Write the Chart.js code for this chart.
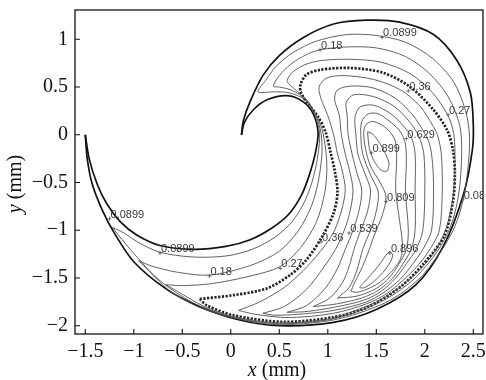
<!DOCTYPE html>
<html><head><meta charset="utf-8">
<script src="https://cdn.jsdelivr.net/npm/chart.js@4.4.0/dist/chart.umd.min.js"></script>
<style>html,body{margin:0;padding:0;background:#fff}</style>
</head><body>
<canvas id="c" width="486" height="380"></canvas>
<script>
const xTicks=[-1.5,-1,-0.5,0,0.5,1,1.5,2,2.5];
const yTicks=[-2,-1.5,-1,-0.5,0,0.5,1];

const outerBoundary=[[-1.5,0],[-1.48,-0.25],[-1.43,-0.51],[-1.32,-0.8],[-1.2,-1.03],[-1.0,-1.33],[-0.66,-1.62],[-0.32,-1.8],[0.09,-1.94],[0.5,-2.0],[1.06,-1.965],[1.5,-1.83],[1.91,-1.57],[2.19,-1.17],[2.4,-0.62],[2.49,-0.16],[2.5,0.1],[2.47,0.44],[2.33,0.78],[2.09,1.05],[1.74,1.18],[1.4,1.2],[1.06,1.16],[0.75,1.02],[0.5,0.83],[0.33,0.62],[0.2,0.35],[0.13,0.15],[0.11,0.0]];
const innerBoundary=[[0.11,0.0],[0.14,0.13],[0.24,0.27],[0.38,0.37],[0.58,0.41],[0.74,0.35],[0.85,0.22],[0.9,0.02],[0.87,-0.2],[0.81,-0.42],[0.73,-0.63],[0.6,-0.83],[0.42,-0.98],[0.2,-1.1],[-0.05,-1.17],[-0.39,-1.2],[-0.73,-1.16],[-0.97,-1.05],[-1.14,-0.91],[-1.28,-0.72],[-1.38,-0.51],[-1.46,-0.25],[-1.5,0]];

const c0899=[[-1.22,-0.97],[-1.1,-1.03],[-0.95,-1.13],[-0.73,-1.23],[-0.4,-1.28],[-0.05,-1.27],[0.22,-1.2],[0.46,-1.07],[0.64,-0.9],[0.77,-0.68],[0.85,-0.45],[0.9,-0.2],[0.915,0.02],[0.86,0.22],[0.76,0.37],[0.6,0.44],[0.44,0.45],[0.28,0.45],[0.36,0.57],[0.47,0.72],[0.64,0.86],[0.88,0.98],[1.2,1.05],[1.5,1.04],[1.8,0.97],[2.08,0.8],[2.3,0.55],[2.42,0.25],[2.46,0.0],[2.45,-0.3],[2.4,-0.66],[2.31,-0.96],[2.16,-1.23],[1.93,-1.52],[1.65,-1.73],[1.3,-1.875],[1.0,-1.95],[0.5,-1.99],[0.08,-1.93],[-0.32,-1.81],[-0.66,-1.61],[-0.95,-1.3],[-1.12,-1.1],[-1.22,-0.97]];
const c018=[[-0.95,-1.32],[-0.8,-1.38],[-0.55,-1.44],[-0.22,-1.47],[0.2,-1.37],[0.5,-1.22],[0.7,-1.0],[0.83,-0.75],[0.9,-0.5],[0.94,-0.2],[0.93,0.02],[0.875,0.21],[0.78,0.37],[0.62,0.47],[0.5,0.5],[0.44,0.51],[0.5,0.62],[0.62,0.74],[0.78,0.84],[0.92,0.89],[1.2,0.92],[1.5,0.91],[1.8,0.82],[2.05,0.64],[2.24,0.4],[2.36,0.1],[2.38,-0.2],[2.35,-0.62],[2.27,-0.95],[2.13,-1.22],[1.9,-1.5],[1.62,-1.71],[1.3,-1.855],[1.0,-1.94],[0.5,-1.98],[0.06,-1.92],[-0.31,-1.8],[-0.64,-1.6],[-0.85,-1.42],[-0.95,-1.32]];
const c027=[[-0.67,-1.57],[-0.5,-1.58],[-0.2,-1.56],[0.2,-1.48],[0.51,-1.38],[0.72,-1.18],[0.88,-0.92],[0.97,-0.6],[0.99,-0.3],[0.95,0.02],[0.885,0.2],[0.8,0.33],[0.68,0.46],[0.6,0.53],[0.58,0.57],[0.64,0.66],[0.78,0.74],[0.95,0.78],[1.25,0.79],[1.55,0.76],[1.85,0.64],[2.08,0.44],[2.24,0.2],[2.3,0.0],[2.31,-0.3],[2.29,-0.65],[2.22,-0.98],[2.08,-1.26],[1.86,-1.5],[1.58,-1.71],[1.3,-1.835],[1.0,-1.93],[0.5,-1.97],[0.05,-1.91],[-0.28,-1.795],[-0.55,-1.64],[-0.67,-1.57]];
const c036=[[-0.32,-1.72],[0.03,-1.68],[0.37,-1.61],[0.61,-1.47],[0.78,-1.31],[0.94,-1.07],[1.06,-0.82],[1.1,-0.6],[1.07,-0.37],[1.03,-0.19],[0.98,0.02],[0.9,0.19],[0.79,0.33],[0.72,0.45],[0.72,0.53],[0.78,0.63],[0.92,0.68],[1.23,0.7],[1.57,0.65],[1.85,0.5],[2.09,0.26],[2.23,0.05],[2.29,-0.16],[2.31,-0.4],[2.29,-0.7],[2.2,-1.06],[1.98,-1.36],[1.74,-1.6],[1.4,-1.81],[1.06,-1.91],[0.54,-1.96],[0.02,-1.89],[-0.25,-1.785],[-0.32,-1.72]];
const c045=[[0.08,-1.84],[0.3,-1.75],[0.55,-1.6],[0.75,-1.42],[0.9,-1.25],[1.0,-1.12],[1.07,-1.0],[1.14,-0.8],[1.18,-0.58],[1.15,-0.38],[1.1,-0.2],[1.06,0],[1.0,0.2],[0.93,0.38],[0.91,0.5],[0.98,0.59],[1.15,0.62],[1.47,0.58],[1.75,0.47],[1.95,0.3],[2.08,0.1],[2.13,0],[2.17,-0.2],[2.18,-0.58],[2.15,-1.0],[2.04,-1.22],[1.92,-1.38],[1.77,-1.53],[1.6,-1.67],[1.4,-1.77],[1.06,-1.87],[0.6,-1.915],[0.25,-1.88],[0.08,-1.84]];
const c054=[[0.33,-1.87],[0.55,-1.8],[0.78,-1.62],[0.95,-1.4],[1.08,-1.2],[1.17,-1.0],[1.23,-0.8],[1.26,-0.58],[1.23,-0.4],[1.18,-0.2],[1.14,0],[1.12,0.2],[1.07,0.37],[1.1,0.47],[1.24,0.51],[1.47,0.49],[1.7,0.38],[1.88,0.2],[1.99,0.03],[2.05,-0.1],[2.08,-0.3],[2.09,-0.58],[2.07,-1.0],[1.98,-1.2],[1.87,-1.36],[1.75,-1.51],[1.58,-1.65],[1.4,-1.75],[1.06,-1.84],[0.7,-1.88],[0.45,-1.89],[0.33,-1.87]];
const c063=[[0.58,-1.86],[0.78,-1.79],[0.98,-1.6],[1.1,-1.4],[1.18,-1.2],[1.26,-1.0],[1.32,-0.8],[1.35,-0.58],[1.3,-0.4],[1.25,-0.2],[1.21,0],[1.2,0.2],[1.19,0.34],[1.27,0.42],[1.47,0.4],[1.68,0.3],[1.84,0.14],[1.94,-0.02],[1.99,-0.2],[2.0,-0.58],[1.98,-1.0],[1.91,-1.2],[1.81,-1.35],[1.7,-1.5],[1.55,-1.64],[1.38,-1.73],[1.1,-1.8],[0.8,-1.85],[0.58,-1.86]];
const c072=[[0.85,-1.8],[1.02,-1.71],[1.15,-1.55],[1.22,-1.38],[1.27,-1.2],[1.34,-1.0],[1.41,-0.8],[1.44,-0.58],[1.38,-0.4],[1.31,-0.2],[1.29,0],[1.28,0.18],[1.33,0.29],[1.47,0.31],[1.65,0.22],[1.79,0.08],[1.86,-0.02],[1.9,-0.2],[1.9,-0.58],[1.9,-1.0],[1.86,-1.2],[1.77,-1.36],[1.67,-1.5],[1.52,-1.63],[1.35,-1.71],[1.1,-1.77],[0.95,-1.79],[0.85,-1.8]];
const c081=[[1.1,-1.71],[1.22,-1.6],[1.3,-1.42],[1.36,-1.2],[1.44,-1.0],[1.5,-0.8],[1.52,-0.6],[1.44,-0.42],[1.36,-0.2],[1.34,0],[1.35,0.14],[1.42,0.22],[1.52,0.22],[1.65,0.13],[1.75,0.03],[1.8,-0.1],[1.81,-0.3],[1.8,-0.58],[1.83,-1.0],[1.81,-1.2],[1.73,-1.36],[1.63,-1.5],[1.5,-1.61],[1.3,-1.69],[1.1,-1.71]];
const c085=[[1.24,-1.64],[1.27,-1.56],[1.34,-1.42],[1.41,-1.25],[1.48,-1.05],[1.56,-0.85],[1.6,-0.65],[1.54,-0.5],[1.45,-0.35],[1.4,-0.2],[1.37,0],[1.39,0.1],[1.46,0.14],[1.56,0.1],[1.65,0.02],[1.7,-0.08],[1.71,-0.25],[1.7,-0.58],[1.74,-0.9],[1.77,-1.15],[1.75,-1.3],[1.66,-1.43],[1.53,-1.55],[1.4,-1.62],[1.3,-1.65],[1.24,-1.64]];
const peakUpper=[[1.41,0.03],[1.46,0.01],[1.53,-0.08],[1.59,-0.19],[1.63,-0.3],[1.61,-0.38],[1.55,-0.37],[1.48,-0.28],[1.43,-0.15],[1.41,0.03]];
const peakLower=[[1.64,-1.22],[1.6,-1.26],[1.54,-1.35],[1.45,-1.46],[1.37,-1.55],[1.33,-1.6],[1.38,-1.6],[1.47,-1.54],[1.57,-1.44],[1.64,-1.34],[1.67,-1.26],[1.64,-1.22]];

const labelText=['0.0899','0.18','0.36','0.27','0.629','0.899','0.809','0.0899','0.539','0.36','0.896','0.27','0.18','0.0899','0.0899'];
const labelX=[1.56,0.92,1.83,2.24,1.81,1.45,1.6,2.39,1.22,0.93,1.64,0.51,-0.22,-0.73,-1.25];
const labelY=[1.02,0.89,0.46,0.21,-0.04,-0.19,-0.7,-0.68,-1.03,-1.12,-1.24,-1.4,-1.48,-1.24,-0.88];

function ds(arr, style){
  return Object.assign({data:arr.map(p=>({x:p[0],y:p[1]})),showLine:true,pointRadius:0,tension:0.3,fill:false}, style);
}
const thin={borderColor:'#505050',borderWidth:0.9};
const datasets=[
  ds(c0899,thin),ds(c018,thin),ds(c027,thin),
  ds(c045,thin),ds(c054,thin),ds(c063,thin),ds(c072,thin),ds(c081,thin),ds(c085,thin),
  ds(peakUpper,thin),ds(peakLower,thin),
  ds(c036,{borderColor:'#222',borderWidth:2.7,borderDash:[2.2,1.5]}),
  ds(outerBoundary,{borderColor:'#111',borderWidth:1.7}),
  ds(innerBoundary,{borderColor:'#111',borderWidth:1.7})
];

const serif='"Liberation Serif", "Times New Roman", serif';
const fmt=v=>String(v).replace('-','\u2212');

const decor={
  id:'decor',
  afterDatasetsDraw(chart){
    const ctx=chart.ctx, a=chart.chartArea, x=chart.scales.x, y=chart.scales.y;
    ctx.save();
    ctx.beginPath(); ctx.rect(a.left,a.top,a.right-a.left,a.bottom-a.top); ctx.clip();
    ctx.font='11px "Liberation Sans", Arial, sans-serif';
    ctx.fillStyle='#3a3a3a'; ctx.textAlign='left'; ctx.textBaseline='alphabetic';
    ctx.strokeStyle='#555'; ctx.lineWidth=0.8;
    labelText.forEach((t,i)=>{
      const px=x.getPixelForValue(labelX[i]), py=y.getPixelForValue(labelY[i]);
      ctx.beginPath(); ctx.moveTo(px-2,py); ctx.lineTo(px+2,py); ctx.moveTo(px,py-2); ctx.lineTo(px,py+2); ctx.stroke();
      ctx.fillText(t,px+1,py-1);
    });
    ctx.restore();
    ctx.save();
    ctx.strokeStyle='#111'; ctx.lineWidth=1.3;
    ctx.strokeRect(a.left,a.top,a.right-a.left,a.bottom-a.top);
    ctx.lineWidth=1.1; ctx.beginPath();
    xTicks.forEach(v=>{const px=x.getPixelForValue(v); ctx.moveTo(px,a.bottom); ctx.lineTo(px,a.bottom-5);});
    yTicks.forEach(v=>{const py=y.getPixelForValue(v); ctx.moveTo(a.left,py); ctx.lineTo(a.left+5,py);});
    ctx.stroke();
    ctx.fillStyle='#111'; ctx.textBaseline='middle'; ctx.textAlign='left';
    const drawTitle=(name)=>{
      ctx.font='italic 20px '+serif; const w1=ctx.measureText(name).width;
      ctx.font='20px '+serif; const w2=ctx.measureText(' (mm)').width;
      const s=-(w1+w2)/2;
      ctx.font='italic 20px '+serif; ctx.fillText(name,s,0);
      ctx.font='20px '+serif; ctx.fillText(' (mm)',s+w1,0);
    };
    ctx.save(); ctx.translate((a.left+a.right)/2-2,371); drawTitle('x'); ctx.restore();
    ctx.save(); ctx.translate(16,184); ctx.rotate(-Math.PI/2); drawTitle('y'); ctx.restore();
    ctx.restore();
  }
};

new Chart(document.getElementById('c'),{
  type:'scatter',
  data:{datasets},
  options:{
    responsive:false, animation:false, events:[],
    layout:{padding:{left:0,right:3,top:10,bottom:0}},
    plugins:{legend:{display:false},tooltip:{enabled:false}},
    scales:{
      x:{type:'linear',min:-1.606,max:2.6,
        afterBuildTicks:s=>{s.ticks=xTicks.map(v=>({value:v}));},
        afterFit:s=>{s.height=46;s.paddingLeft=0;s.paddingRight=0;},
        grid:{display:false,drawTicks:false},border:{display:false},
        ticks:{color:'#111',font:{family:serif,size:20},padding:6,maxRotation:0,autoSkip:false,callback:fmt}},
      y:{type:'linear',min:-2.087,max:1.307,
        afterBuildTicks:s=>{s.ticks=yTicks.map(v=>({value:v}));},
        afterFit:s=>{s.width=75;s.paddingTop=0;s.paddingBottom=0;},
        grid:{display:false,drawTicks:false},border:{display:false},
        ticks:{color:'#111',font:{family:serif,size:20},padding:7,autoSkip:false,callback:fmt}}
    }
  },
  plugins:[decor]
});
</script>
</body></html>
